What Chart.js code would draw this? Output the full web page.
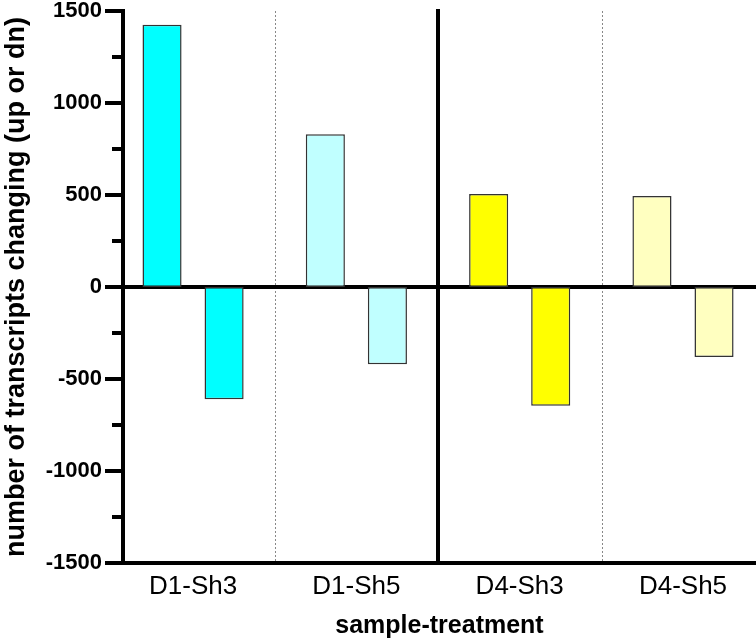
<!DOCTYPE html>
<html>
<head>
<meta charset="utf-8">
<script src="https://cdn.jsdelivr.net/npm/chart.js@4/dist/chart.umd.min.js"></script>
<style>
  html, body { margin: 0; padding: 0; background: #fff; }
  #wrap { width: 756px; height: 638px; position: relative; }
</style>
</head>
<body>
<div id="wrap"><canvas id="c"></canvas></div>
<script>
const categories = ['D1-Sh3', 'D1-Sh5', 'D4-Sh3', 'D4-Sh5'];
const upValues = [1425, 830, 505, 495];
const downValues = [-610, -420, -645, -380];
const barColors = ['#00FFFF', '#C0FFFF', '#FFFF00', '#FFFFC0'];
const yMinorTicks = [-1250, -750, -250, 250, 750, 1250];
const dottedSeparators = [1.5, 3.5];
const groupSeparator = 2.5;
const yTitle = 'number of transcripts changing (up or dn)';
const xTitle = 'sample-treatment';

const FONT = "'Liberation Sans', Arial, sans-serif";
const X_MIN = 0.571, X_MAX = 4.447;

const minorTickPlugin = {
  id: 'minorTicks',
  afterDraw(chart) {
    const y = chart.scales.y;
    const ctx = chart.ctx;
    const left = chart.chartArea.left;
    ctx.save();
    ctx.strokeStyle = '#000';
    ctx.lineWidth = 4;
    yMinorTicks.forEach(v => {
      const py = Math.round(y.getPixelForValue(v));
      ctx.beginPath();
      ctx.moveTo(left - 11, py);
      ctx.lineTo(left, py);
      ctx.stroke();
    });
    ctx.restore();
  }
};

new Chart(document.getElementById('c'), {
  type: 'bar',
  data: {
    datasets: [
      {
        label: 'up',
        data: upValues.map((v, i) => ({ x: i + 1, y: v })),
        backgroundColor: barColors,
        borderColor: '#333',
        borderWidth: 1.5,
        borderSkipped: false
      },
      {
        label: 'dn',
        data: downValues.map((v, i) => ({ x: i + 1, y: v })),
        backgroundColor: barColors,
        borderColor: '#333',
        borderWidth: 1.5,
        borderSkipped: false
      }
    ]
  },
  options: {
    responsive: true,
    maintainAspectRatio: false,
    animation: false,
    categoryPercentage: 0.76,
    barPercentage: 0.63,
    layout: { padding: { top: 11, left: 0, right: 0, bottom: 0 } },
    plugins: { legend: { display: false }, tooltip: { enabled: false } },
    scales: {
      x: {
        type: 'linear', position: 'bottom', min: X_MIN, max: X_MAX,
        offset: false,
        afterBuildTicks: s => { s.ticks = categories.map((_, i) => ({ value: i + 1 })); },
        afterFit: s => { s.height = 75; },
        ticks: {
          callback: v => categories[Math.round(v) - 1],
          color: '#000',
          padding: 8,
          font: { family: FONT, size: 26 },
          maxRotation: 0, autoSkip: false
        },
        grid: { display: false, drawTicks: false, offset: false },
        border: { display: true, color: '#000', width: 4 },
        title: {
          display: true, text: xTitle, color: '#000',
          font: { family: FONT, size: 25, weight: 'bold' },
          padding: { top: 0, bottom: -3 }
        }
      },
      xdot: {
        type: 'linear', position: 'bottom', min: X_MIN, max: X_MAX,
        afterBuildTicks: s => { s.ticks = dottedSeparators.map(v => ({ value: v })); },
        afterFit: s => { s.height = 0; },
        ticks: { display: false },
        grid: { color: '#888', lineWidth: 1, drawTicks: false },
        border: { display: false, dash: [2, 2] }
      },
      yGroup: {
        type: 'linear', axis: 'y', position: { x: groupSeparator },
        min: -1500, max: 1500,
        ticks: { display: false },
        grid: { display: false, drawTicks: false },
        border: { display: true, color: '#000', width: 4 }
      },
      y: {
        min: -1500, max: 1500,
        position: 'left',
        afterFit: s => { s.width = 123; },
        z: 1,
        ticks: {
          stepSize: 500,
          callback: v => String(v),
          color: '#000',
          padding: 3,
          font: { family: FONT, size: 22, weight: 'bold', lineHeight: 0.6 }
        },
        grid: {
          color: c => (c.tick && c.tick.value === 0) ? '#000' : 'rgba(0,0,0,0)',
          lineWidth: 4,
          tickColor: '#000',
          tickLength: 18,
          tickWidth: 4
        },
        border: { display: true, color: '#000', width: 4 },
        title: {
          display: true, text: yTitle, color: '#000',
          font: { family: FONT, size: 27, weight: 'bold' },
          padding: { top: 0, bottom: 0 }
        }
      }
    }
  },
  plugins: [minorTickPlugin]
});
</script>
</body>
</html>
